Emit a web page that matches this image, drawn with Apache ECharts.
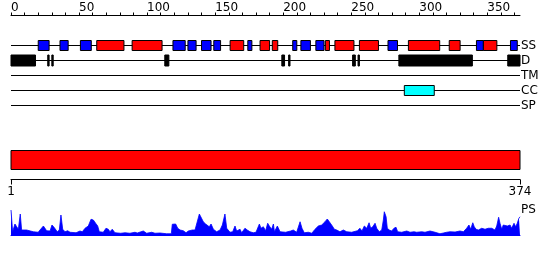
<!DOCTYPE html>
<html><head><meta charset="utf-8">
<script src="https://cdn.jsdelivr.net/npm/echarts@6/dist/echarts.min.js"></script>
<style>html,body{margin:0;padding:0;background:#fff}#c{width:550px;height:260px}</style>
</head><body><div id="c"></div>
<script>
const proteinLength = 374;
const trackNames = ['SS', 'D', 'TM', 'CC', 'SP'];
const topLabelStep = 50;
const helixSegs = [[64,83],[90,111],[162,171],[184,190],[193,196],[232,234],[239,252],[257,270],[293,315],[323,330],[348,357]];
const strandSegs = [[21,28],[37,42],[52,59],[120,128],[131,136],[141,147],[150,154],[175,177],[208,210],[214,220],[225,230],[278,284],[343,347],[368,372]];
const disorderSegs = [[1,18],[28,28],[31,31],[114,116],[200,201],[205,205],[252,253],[256,256],[286,339],[366,374]];
const tmSegs = [];
const coiledSegs = [[290,311]];
const spSegs = [];
const domainSegs = [[1,374]];
const bottomTickLabels = ['1', '374'];
const psPos = [0,1.2,2.9,4.2,5.4,6.8,7.8,11.5,16.4,20,21.3,23.8,25,26.2,28.7,30.1,31.6,32.6,34,35.5,36.7,38,39.7,41.6,43.4,44.6,47.8,50.7,52.4,54.4,56.8,58.8,60.5,62.2,63.7,64.9,67.8,69.8,71.5,72.7,74.4,76.4,80.6,83.8,87.4,91.1,92.8,97.2,99.7,103.4,105.8,109.5,114.4,117.8,118.5,119.8,121,122.5,124.2,126.6,128.6,130.3,131.5,133.2,135.2,136.4,138.4,139.6,141.3,143,144.3,145.7,147,148.7,151.1,153.6,155.3,157.2,158.5,160.9,162.9,164.6,165.8,168.3,169.5,171.9,173.6,175.6,178,180,182.5,183.7,185.4,187.1,188.6,189.8,191.5,192.8,193.6,195.7,197.7,201.8,205.5,207.4,208.7,209.9,212.4,213.8,215.5,218.5,221,223.4,225.8,228.3,230.7,232.4,233.9,234.9,236.1,237.6,239.3,241.7,244.2,246.7,250.3,254.5,256.4,257.9,259.6,261.4,263.1,264.3,265.8,267.5,268.7,270.6,272.4,273.6,274.3,275.6,276.5,278,279.7,281.4,282.9,284.1,287.1,290.8,293.2,296.1,298.1,301.8,304.2,307.9,311.6,315.2,317.7,320.1,322.6,326.3,329.9,332.4,334.8,336.5,337.8,339.3,340.4,341.7,343.4,345.9,348.3,350.7,353.2,355.6,356.9,358.3,359.3,360.6,361.7,363,364.7,366.7,367.9,369.6,370.8,372,373.2,374];
const psScore = [100,13,44,33,23,84,20,20,13,11,20,36,36,17,16,40,31,36,13,20,80,23,13,17,11,16,9,16,13,27,36,63,60,47,36,13,11,27,23,13,23,9,7,9,7,11,8,16,7,11,7,8,5,5,43,40,44,27,20,17,9,16,11,20,20,27,84,76,53,44,40,33,44,23,13,20,40,84,27,11,13,36,16,23,9,27,20,13,9,11,44,27,33,17,47,36,23,44,13,36,13,11,16,20,13,11,53,27,9,11,7,23,36,40,53,64,53,60,36,23,20,13,20,13,11,17,27,16,36,27,49,27,33,47,27,13,20,60,93,73,27,20,16,27,31,13,11,16,11,13,11,13,11,16,11,5,8,11,13,12,16,13,27,40,23,49,33,23,20,27,23,27,27,20,36,71,47,23,40,33,36,40,27,47,33,47,67,73];

const FONT = 'DejaVu Sans';
const chart = echarts.init(document.getElementById('c'), null, {renderer: 'canvas'});

function segSeries(name, segs, row, h, fill, xi, yi) {
  return {
    type: 'custom', name: name, xAxisIndex: xi, yAxisIndex: yi, clip: false, silent: true,
    data: segs.map(s => [s[0], s[1], row]),
    encode: {x: [0, 1], y: 2},
    renderItem: function (params, api) {
      const r = api.value(2);
      const p0 = api.coord([api.value(0) - 1, r]);
      const p1 = api.coord([api.value(1), r]);
      return {type: 'rect', shape: {x: p0[0], y: p0[1] - h / 2, width: p1[0] - p0[0], height: h},
        style: {fill: fill, stroke: '#000', lineWidth: 1}};
    }
  };
}

const row = n => trackNames.indexOf(n);

chart.setOption({
  animation: false,
  backgroundColor: '#fff',
  grid: [
    {left: 11, right: 30, top: 15.5, height: 105},
    {left: 11, right: 30, top: 150.5, height: 19},
    {left: 11, right: 30, top: 210, height: 25}
  ],
  xAxis: [
    {gridIndex: 0, type: 'value', position: 'top', min: 0, max: proteinLength, interval: 10,
      axisLine: {show: true, onZero: false, lineStyle: {color: '#000', width: 1}},
      axisTick: {show: true, length: 3, lineStyle: {color: '#000'}},
      axisLabel: {interval: 0, align: 'left', margin: 2, color: '#000', fontFamily: FONT, fontSize: 12,
        showMaxLabel: false,
        formatter: v => (v % topLabelStep === 0 ? String(v) : '')},
      splitLine: {show: false}},
    {gridIndex: 1, type: 'value', position: 'bottom', offset: 10, min: 0, max: proteinLength, interval: proteinLength,
      axisLine: {show: true, onZero: false, lineStyle: {color: '#000', width: 1}},
      axisTick: {show: true, length: 5, lineStyle: {color: '#000'}},
      axisLabel: {margin: 6, color: '#000', fontFamily: FONT, fontSize: 12, showMinLabel: true, showMaxLabel: true,
        formatter: v => (v === 0 ? bottomTickLabels[0] : bottomTickLabels[1])},
      splitLine: {show: false}},
    {gridIndex: 2, type: 'value', min: 0, max: proteinLength,
      axisLine: {show: true, onZero: false, lineStyle: {color: '#0000ff', width: 1}},
      axisTick: {show: false}, axisLabel: {show: false}, splitLine: {show: false}}
  ],
  yAxis: [
    {gridIndex: 0, type: 'value', min: -2, max: trackNames.length, interval: 1, inverse: true, position: 'right',
      axisLine: {show: false}, axisTick: {show: false}, splitLine: {show: false},
      axisLabel: {margin: 1, color: '#000', fontFamily: FONT, fontSize: 12,
        formatter: v => (trackNames[v] !== undefined ? trackNames[v] : '')}},
    {gridIndex: 1, type: 'value', min: 0, max: 1, show: false},
    {gridIndex: 2, type: 'value', min: 0, max: 100, interval: 100, position: 'right',
      axisLine: {show: false}, axisTick: {show: false}, splitLine: {show: false},
      axisLabel: {margin: 1, color: '#000', fontFamily: FONT, fontSize: 12, padding: [4, 0, 0, 0],
        formatter: v => (v === 100 ? 'PS' : '')}}
  ],
  series: [
    {
      type: 'custom', name: 'tracks', xAxisIndex: 0, yAxisIndex: 0, clip: false, silent: true,
      data: trackNames.map((n, i) => [0, proteinLength, i]),
      encode: {x: [0, 1], y: 2},
      renderItem: function (params, api) {
        const p0 = api.coord([api.value(0), api.value(2)]);
        const p1 = api.coord([api.value(1), api.value(2)]);
        return {type: 'line', shape: {x1: p0[0], y1: p0[1], x2: p1[0], y2: p1[1]},
          style: {stroke: '#000', lineWidth: 1}};
      }
    },
    segSeries('helix', helixSegs, row('SS'), 10, '#ff0000', 0, 0),
    segSeries('strand', strandSegs, row('SS'), 10, '#0000ff', 0, 0),
    segSeries('disorder', disorderSegs, row('D'), 11, '#000000', 0, 0),
    segSeries('tm', tmSegs, row('TM'), 10, '#ffff00', 0, 0),
    segSeries('coiled', coiledSegs, row('CC'), 10, '#00ffff', 0, 0),
    segSeries('sp', spSegs, row('SP'), 10, '#00ff00', 0, 0),
    {
      type: 'custom', name: 'domain', xAxisIndex: 1, yAxisIndex: 1, clip: false, silent: true,
      data: domainSegs,
      encode: {x: [0, 1]},
      renderItem: function (params, api) {
        const p0 = api.coord([api.value(0) - 1, 1]);
        const p1 = api.coord([api.value(1), 0]);
        return {type: 'rect', shape: {x: p0[0], y: p0[1], width: p1[0] - p0[0], height: p1[1] - p0[1]},
          style: {fill: '#ff0000', stroke: '#000', lineWidth: 1}};
      }
    },
    {
      type: 'line', name: 'PS', xAxisIndex: 2, yAxisIndex: 2, silent: true,
      data: psPos.map((p, i) => [p, psScore[i]]),
      symbol: 'none', smooth: false,
      lineStyle: {color: '#0000ff', width: 0.8},
      areaStyle: {color: '#0000ff', opacity: 1}
    }
  ]
});
</script>
</body></html>
